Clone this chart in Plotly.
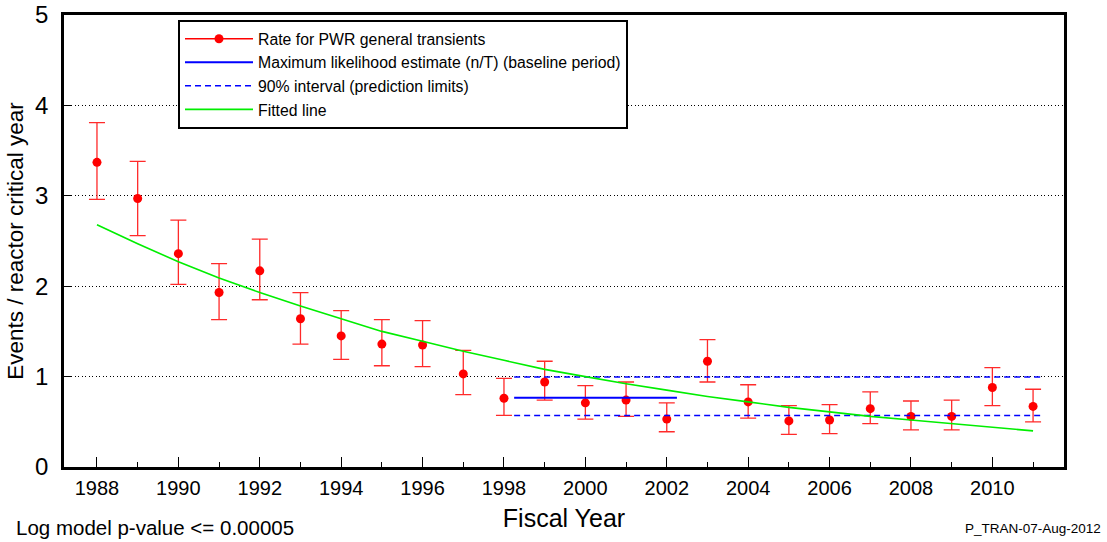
import plotly.graph_objects as go

years = list(range(1988, 2012))
rate = [3.37, 2.97, 2.36, 1.93, 2.17, 1.64, 1.45, 1.36, 1.35, 1.03,
        0.76, 0.94, 0.71, 0.74, 0.53, 1.17, 0.72, 0.51, 0.52, 0.645,
        0.56, 0.56, 0.88, 0.67]
upper = [3.81, 3.38, 2.73, 2.25, 2.52, 1.93, 1.73, 1.63, 1.62, 1.29,
         0.98, 1.17, 0.90, 0.94, 0.71, 1.41, 0.91, 0.68, 0.69, 0.83,
         0.73, 0.74, 1.10, 0.86]
lower = [2.96, 2.56, 2.02, 1.63, 1.85, 1.36, 1.19, 1.12, 1.11, 0.80,
         0.57, 0.74, 0.53, 0.56, 0.39, 0.94, 0.54, 0.36, 0.37, 0.48,
         0.41, 0.41, 0.68, 0.50]
fitted = [2.68, 2.47, 2.27, 2.09, 1.93, 1.78, 1.64, 1.50, 1.39, 1.28,
          1.18, 1.08, 1.00, 0.92, 0.85, 0.78, 0.72, 0.66, 0.61, 0.56,
          0.52, 0.48, 0.44, 0.40]
mle_x = [1998.25, 2002.25]
mle_val = 0.765
limit_x = [1998.25, 2011.2]
limit_upper = 0.995
limit_lower = 0.57

FONT = "Liberation Sans, Arial, sans-serif"

fig = go.Figure()

err_plus = [u - r for u, r in zip(upper, rate)]
err_minus = [r - l for r, l in zip(rate, lower)]

fig.add_trace(go.Scatter(
    x=years, y=rate, mode="markers", showlegend=False,
    marker=dict(color="red", size=9),
    error_y=dict(type="data", array=err_plus, arrayminus=err_minus,
                 color="#ff2a2a", thickness=1.3, width=8),
))
fig.add_trace(go.Scatter(
    x=[None], y=[None], mode="lines+markers", name="Rate for PWR general transients",
    line=dict(color="red", width=1.3), marker=dict(color="red", size=9),
))
fig.add_trace(go.Scatter(
    x=mle_x, y=[mle_val, mle_val], mode="lines",
    name="Maximum likelihood estimate (n/T) (baseline period)",
    line=dict(color="blue", width=2),
))
fig.add_trace(go.Scatter(
    x=limit_x, y=[limit_upper, limit_upper], mode="lines",
    name="90% interval (prediction limits)",
    line=dict(color="blue", width=1.6, dash="6px,4px"),
))
fig.add_trace(go.Scatter(
    x=limit_x, y=[limit_lower, limit_lower], mode="lines", showlegend=False,
    line=dict(color="blue", width=1.6, dash="6px,4px"),
))
fig.add_trace(go.Scatter(
    x=years, y=fitted, mode="lines", name="Fitted line",
    line=dict(color="#00ee00", width=1.6),
))

fig.update_layout(
    width=1107, height=542,
    margin=dict(l=64, r=43, t=15, b=75, autoexpand=False),
    plot_bgcolor="white", paper_bgcolor="white",
    font=dict(family=FONT, color="black"),
    legend=dict(
        x=0.114, y=0.989, xanchor="left", yanchor="top",
        bgcolor="white", bordercolor="black", borderwidth=2,
        font=dict(size=15.8, family=FONT), itemwidth=68,
        traceorder="normal",
    ),
    annotations=[
        dict(text="Log model p-value <= 0.00005", xref="paper", yref="paper",
             x=-0.05, y=-0.133, xanchor="left", yanchor="middle",
             showarrow=False, font=dict(size=20.5, family=FONT)),
        dict(text="P_TRAN-07-Aug-2012", xref="paper", yref="paper",
             x=1.039, y=-0.135, xanchor="right", yanchor="middle",
             showarrow=False, font=dict(size=13.5, family=FONT)),
    ],
)

fig.update_xaxes(
    range=[1987.19, 2011.76], tick0=1988, dtick=2, automargin=False,
    ticks="inside", ticklen=10, tickwidth=1.2, tickcolor="black",
    showline=True, linewidth=2.5, linecolor="black", mirror=True,
    showgrid=False, zeroline=False,
    tickfont=dict(size=20, family=FONT), ticklabelstandoff=1,
    minor=dict(dtick=1, tick0=1988, ticks="inside", ticklen=5, tickcolor="black", tickwidth=1.2, showgrid=False),
    title=dict(text="Fiscal Year", font=dict(size=25, family=FONT), standoff=12),
)
fig.update_yaxes(
    range=[0, 5], tick0=0, dtick=1, automargin=False,
    ticks="inside", ticklen=8, tickwidth=1.2, tickcolor="black",
    showline=True, linewidth=2.5, linecolor="black", mirror=True,
    showgrid=True, gridcolor="black", gridwidth=1, griddash="1px,2.5px",
    zeroline=False,
    tickfont=dict(size=24, family=FONT), ticklabelstandoff=8,
    title=dict(text="Events / reactor critical year", font=dict(size=22.5, family=FONT), standoff=6),
)

fig.write_html("out.html", config={"displayModeBar": False},
               post_script="document.body.style.margin='0';document.body.style.overflow='hidden';")
